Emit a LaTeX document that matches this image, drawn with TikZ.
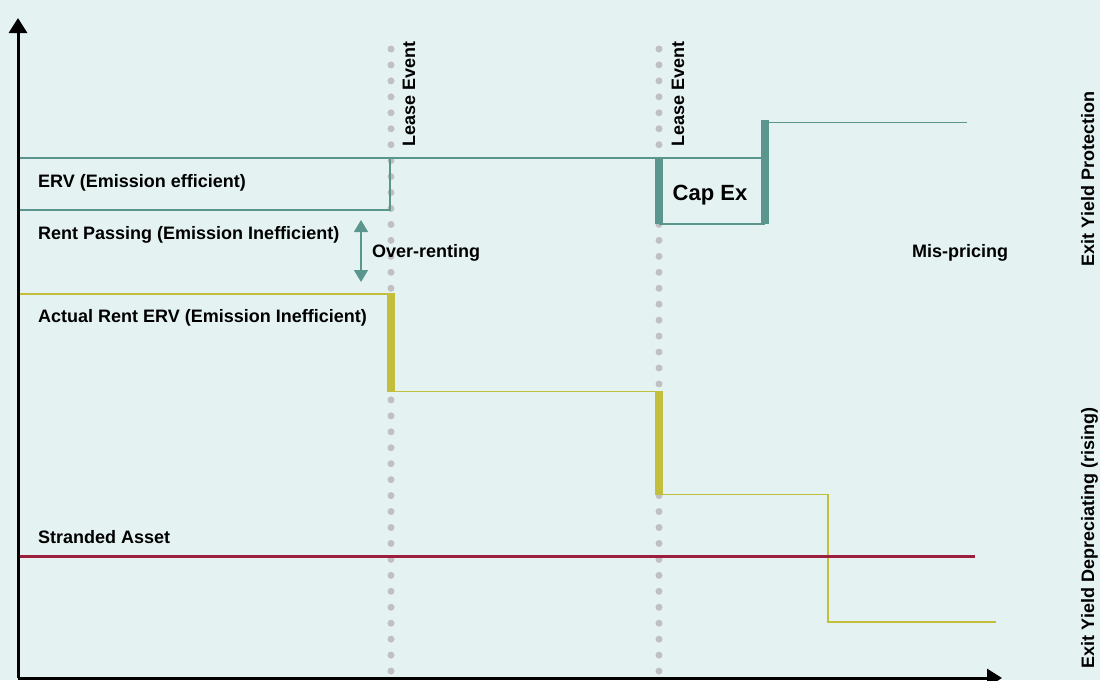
\documentclass[tikz,border=0pt]{standalone}
\usepackage{fontspec}
\setmainfont{Liberation Sans}
\usetikzlibrary{arrows.meta}

\definecolor{mintbg}{HTML}{E4F3F2}
\definecolor{ervteal}{HTML}{5A968E}
\definecolor{rentyellow}{HTML}{C3BF3D}
\definecolor{strandred}{HTML}{9C1F3E}
\definecolor{dotgrey}{HTML}{C0C0C0}

\tikzset{
  lbl/.style={font=\bfseries\fontsize{18}{21}\selectfont, inner sep=0pt},
  sidelbl/.style={lbl, rotate=90, anchor=base},
  axis/.style={line width=3pt, -{Triangle[length=15pt, width=18pt]}},
  leaseline/.style={dotgrey, line width=7pt, line cap=round, dash pattern=on 0pt off 15.95pt},
  thinteal/.style={ervteal, line width=1.5pt},
  thickteal/.style={ervteal, line width=7.5pt},
  thinyellow/.style={rentyellow, line width=1.5pt},
  thickyellow/.style={rentyellow, line width=7.5pt},
}

\begin{document}
\begin{tikzpicture}[x=1pt, y=-1pt]
\fill[mintbg] (0,0) rectangle (1100,680);
\useasboundingbox (0,0) rectangle (1100,680);

% lease events
\draw[leaseline] (391,49) -- (391,672);
\draw[leaseline] (659,49) -- (659,672);
\node[sidelbl] (lease1) at (415,94) {Lease Event};
\node[sidelbl] (lease2) at (684,94) {Lease Event};

% ERV (teal)
\draw[thinteal] (18,158) -- (762,158);
\draw[thinteal] (18,210) -- (390,210) -- (390,158);
\draw[thinteal] (659,224) -- (765,224);
\draw[thinteal] (765,122.5) -- (967,122.5);
\draw[thickteal] (659,158) -- (659,224);
\draw[thickteal] (765,224) -- (765,120);

% actual rent (yellow)
\draw[thinyellow] (18,294) -- (391,294);
\draw[thinyellow] (391,391.5) -- (659,391.5);
\draw[thinyellow] (659,494.5) -- (828,494.5) -- (828,622) -- (996,622);
\draw[thickyellow] (391,293) -- (391,391.5);
\draw[thickyellow] (659,391) -- (659,494.5);

% stranded asset
\draw[strandred, line width=3pt] (18,556.5) -- (975,556.5);

% over-renting gap
\coordinate (gaptop) at (361,220);
\coordinate (gapbot) at (361,282);
\draw[ervteal, line width=1.5pt, {Triangle[length=12pt, width=14pt]}-{Triangle[length=12pt, width=14pt]}] (gaptop) -- (gapbot);

% axes
\coordinate (origin) at (18,678);
\draw[axis] (origin) -- (18,18);
\draw[axis] (origin) -- (1002,678);

% labels
\node[lbl, anchor=base west] (erv) at (38,187) {ERV (Emission efficient)};
\node[lbl, anchor=base west] (passing) at (38,239) {Rent Passing (Emission Inefficient)};
\node[lbl, anchor=base west] (actual) at (38,322) {Actual Rent ERV (Emission Inefficient)};
\node[lbl, anchor=base west] (stranded) at (38,543) {Stranded Asset};
\node[lbl, anchor=base west] (over) at (372,257) {Over-renting};
\node[lbl, anchor=base] (mispricing) at (960,257) {Mis-pricing};
\node[lbl, font=\bfseries\fontsize{22}{25}\selectfont, anchor=base] (capex) at (710,200) {Cap Ex};
\node[sidelbl] (protect) at (1094,179) {Exit Yield Protection};
\node[sidelbl] (deprec) at (1094,538) {Exit Yield Depreciating (rising)};
\end{tikzpicture}
\end{document}
